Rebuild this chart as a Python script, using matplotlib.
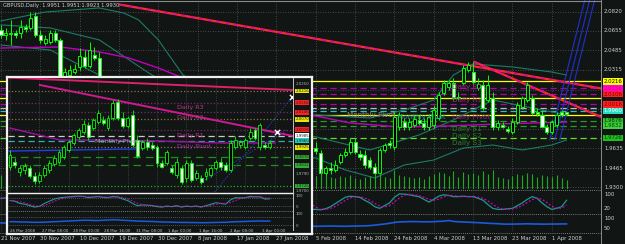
import matplotlib
matplotlib.use("Agg")
import matplotlib.pyplot as plt
import numpy as np
import pandas as pd
from matplotlib.patches import Rectangle

# ---------------- DATA: main GBPUSD daily chart ----------------
open_ = [2.0661,2.0618,2.0627,2.0635,2.0635,2.0687,2.0679,2.0782,2.0618,2.0549,
         2.0557,2.0635,2.0575,2.0254,2.0271,2.0297,2.0341,2.0427,2.0349,2.0445,
         2.0419,2.0142,2.0081,2.0124,1.9986,1.9951,1.9994,1.9908,1.9899,1.9916,
         1.9925,1.9856,1.9882,1.9951,1.9899,1.9942,1.9864,1.9838,1.9778,1.9812,
         1.9856,1.9752,1.9717,1.9795,1.9735,1.9709,1.9743,1.9657,1.9605,1.9570,
         1.9518,1.9579,1.9683,1.9726,1.9795,1.9743,1.9786,1.9812,1.9795,1.9847,
         1.9812,1.9752,1.9812,1.9752,1.9639,1.9596,1.9423,1.9466,1.9449,1.9518,
         1.9579,1.9605,1.9691,1.9587,1.9579,1.9535,1.9475,1.9423,1.9622,1.9683,
         1.9648,1.9821,1.9864,1.9821,1.9838,1.9882,1.9856,1.9821,1.9838,1.9899,
         2.0116,2.0168,2.0202,2.0081,2.0202,2.0315,2.0297,2.0159,2.0185,2.0055,
         2.0072,1.9821,1.9838,1.9804,1.9778,1.9864,1.9994,2.0055,2.0072,1.9951,
         1.9925,1.9821,1.9778,1.9838,1.9951,1.9951]
high_ = [2.0705,2.0679,2.0748,2.0661,2.0748,2.0713,2.0817,2.0817,2.0661,2.0618,
         2.0661,2.0661,2.0592,2.0332,2.0358,2.0367,2.0505,2.0488,2.0557,2.0514,
         2.0471,2.0185,2.0159,2.0142,2.0055,2.0012,2.0020,1.9951,1.9934,1.9951,
         1.9968,1.9899,1.9968,1.9986,1.9968,1.9986,1.9916,1.9882,1.9838,1.9882,
         1.9899,1.9795,1.9812,1.9830,1.9778,1.9761,1.9778,1.9709,1.9665,1.9622,
         1.9605,1.9709,1.9752,1.9812,1.9838,1.9812,1.9830,1.9864,1.9882,1.9899,
         1.9864,1.9838,1.9838,1.9795,1.9691,1.9622,1.9483,1.9518,1.9535,1.9596,
         1.9639,1.9726,1.9726,1.9622,1.9622,1.9561,1.9509,1.9639,1.9683,1.9709,
         1.9951,1.9951,1.9899,1.9899,1.9925,1.9925,1.9899,1.9934,2.0012,2.0124,
         2.0228,2.0228,2.0246,2.0124,2.0358,2.0384,2.0384,2.0246,2.0228,2.0271,
         2.0124,1.9882,1.9864,1.9830,1.9899,2.0038,2.0090,2.0211,2.0098,1.9986,
         1.9968,1.9847,1.9882,1.9951,1.9968,1.9951]
low_ = [2.0592,2.0575,2.0531,2.0592,2.0592,2.0644,2.0661,2.0601,2.0549,2.0531,
        2.0540,2.0557,2.0202,2.0228,2.0246,2.0280,2.0315,2.0332,2.0332,2.0401,
        2.0098,2.0055,2.0038,1.9968,1.9925,1.9899,1.9882,1.9864,1.9847,1.9882,
        1.9838,1.9812,1.9864,1.9882,1.9864,1.9838,1.9812,1.9752,1.9743,1.9761,
        1.9726,1.9691,1.9700,1.9709,1.9691,1.9657,1.9639,1.9579,1.9535,1.9483,
        1.9492,1.9553,1.9639,1.9691,1.9709,1.9726,1.9735,1.9761,1.9769,1.9778,
        1.9726,1.9726,1.9709,1.9622,1.9587,1.9397,1.9397,1.9414,1.9431,1.9501,
        1.9561,1.9587,1.9587,1.9535,1.9466,1.9457,1.9405,1.9397,1.9605,1.9639,
        1.9622,1.9795,1.9795,1.9795,1.9821,1.9838,1.9795,1.9795,1.9812,1.9882,
        2.0098,2.0142,2.0055,2.0055,2.0185,2.0297,2.0185,2.0142,1.9968,2.0038,
        1.9795,1.9795,1.9812,1.9769,1.9761,1.9847,1.9977,2.0038,1.9925,1.9916,
        1.9812,1.9761,1.9761,1.9821,1.9908,1.9923]
close_ = [2.0618,2.0635,2.0635,2.0618,2.0687,2.0670,2.0765,2.0618,2.0575,2.0583,
          2.0635,2.0575,2.0228,2.0297,2.0315,2.0323,2.0436,2.0349,2.0488,2.0419,
          2.0142,2.0081,2.0124,1.9986,1.9951,1.9994,1.9908,1.9899,1.9916,1.9925,
          1.9856,1.9882,1.9951,1.9899,1.9942,1.9864,1.9838,1.9778,1.9812,1.9856,
          1.9752,1.9717,1.9795,1.9735,1.9709,1.9743,1.9657,1.9605,1.9570,1.9518,
          1.9579,1.9683,1.9726,1.9795,1.9743,1.9786,1.9812,1.9795,1.9847,1.9812,
          1.9752,1.9812,1.9752,1.9648,1.9613,1.9423,1.9466,1.9449,1.9492,1.9579,
          1.9605,1.9691,1.9605,1.9561,1.9492,1.9475,1.9423,1.9622,1.9665,1.9665,
          1.9908,1.9925,1.9821,1.9864,1.9890,1.9856,1.9821,1.9908,1.9968,2.0098,
          2.0202,2.0202,2.0072,2.0072,2.0332,2.0358,2.0211,2.0194,1.9986,2.0185,
          1.9821,1.9856,1.9821,1.9786,1.9864,2.0012,2.0072,2.0185,1.9942,1.9934,
          1.9821,1.9778,1.9864,1.9925,1.9925,1.9930]
volume = [14,12,15,11,13,10,16,15,12,11,12,10,22,14,12,10,15,13,14,11,
          21,16,14,18,15,13,12,11,9,8,12,10,11,9,12,13,11,14,12,13,
          15,13,12,14,11,12,14,15,13,16,15,14,13,12,15,11,12,13,12,14,
          13,12,14,15,13,20,14,12,11,13,12,14,11,10,12,13,15,16,12,11,
          19,14,13,12,11,12,10,13,15,17,16,13,18,12,17,15,16,14,18,15,
          19,12,11,10,13,15,14,16,15,12,14,13,12,14,11,9]
stoch_k = [70,72,75,68,72,70,80,65,55,48,55,45,20,15,18,22,40,35,50,45,
           20,12,15,8,10,18,15,20,25,28,20,25,40,35,42,35,30,22,30,40,
           28,20,35,30,25,32,20,12,10,8,20,45,60,75,65,72,80,70,78,70,
           55,65,50,17,17,15,20,30,45,60,75,80,78,74,60,48,30,22,35,48,
           75,91,90,87,82,78,65,52,65,80,87,84,78,78,80,78,78,70,61,40,
           22,17,17,20,22,35,48,65,78,70,48,30,17,22,30,61]
lower_ind = [55,55,52,50,52,55,58,55,50,45,45,42,40,38,36,35,35,36,38,40,
             42,45,48,50,52,55,55,54,52,50,48,47,46,45,45,44,44,45,46,48,
             50,52,54,55,55,54,52,50,48,46,44,42,40,38,36,34,32,30,30,28,
             27,26,25,25,24,24,25,26,25,24,24,25,26,27,28,30,35,40,45,52,
             60,65,66,68,68,67,66,66,67,70,72,78,70,66,64,62,60,58,55,52,
             50,48,45,44,44,45,46,47,46,45,44,44,45,45,46,46]

# moving-average / band lines (bar index, price)
ma_idx = [0, 12, 20, 26, 32, 37, 50, 63, 71, 81, 91, 101, 115]
ma_val = [2.0505, 2.0514, 2.0471, 2.0419, 2.0332, 2.0246, 2.0098, 1.9925, 1.9856, 1.9821, 1.9830, 1.9847, 1.9864]
bbu_idx = [0, 9, 20, 25, 28, 32, 37, 50, 60, 64, 75, 82, 88, 92, 96, 104, 112, 115]
bbu_val = [2.0740, 2.0817, 2.0852, 2.0808, 2.0748, 2.0575, 2.0271, 1.9968, 1.9899, 1.9925, 1.9899, 1.9968, 2.0055, 2.0271, 2.0367, 2.0341, 2.0297, 2.0271]
bbm_idx = [0, 10, 20, 30, 45, 64, 75, 85, 92, 100, 108, 115]
bbm_val = [2.0705, 2.0679, 2.0575, 2.0290, 1.9900, 1.9735, 1.9622, 1.9752, 1.9882, 2.0055, 1.9986, 1.9925]
bbl_idx = [0, 10, 20, 30, 45, 64, 70, 76, 82, 88, 94, 100, 106, 112, 115]
bbl_val = [2.0531, 2.0488, 2.0271, 1.9850, 1.9600, 1.9553, 1.9449, 1.9380, 1.9492, 1.9535, 1.9639, 1.9665, 1.9622, 1.9665, 1.9709]

# trend lines (bar index, price)
trend_a = ([24.2, 122.0], [2.0881, 2.0155])
trend_b = ([96.3, 122.0], [2.0384, 1.9908])
channel_lines = [([111.6, 118.7], [1.9709, 2.0921]),
                 ([112.6, 119.7], [1.9709, 2.0921]),
                 ([113.6, 120.7], [1.9709, 2.0921])]

# pivot levels
levels = [2.0216, 2.0156, 2.0106, 2.0070, 2.0016, 1.9985, 1.9960, 1.9925, 1.9876, 1.9832, 1.9726]
level_colors = ["#ffff00", "#b000b0", "#b000b0", "#ffff00", "#b000b0", "#b8b8b8", "#30c0c0",
                "#ffff00", "#2a9a2a", "#2a9a2a", "#66dd22"]
level_styles = ["-", (0, (5, 3)), (0, (5, 3)), "-", (0, (5, 3)), (0, (5, 3)), (0, (5, 3)),
                "-", (0, (5, 3)), (0, (5, 3)), (0, (5, 3))]
tag_prices = [2.0216, 2.0156, 2.0106, 2.0016, 1.9960, 1.9876, 1.9832, 1.9726]
tag_bg = ["#ffff00", "#ff00ff", "#ff2020", "#ff2020", "#20e0c0", "#30c030", "#40d040", "#20c020"]
tag_fg = ["#000000", "#ff0000", "#800000", "#800000", "#ffffff", "#004000", "#004000", "#004000"]
price_ticks = [2.0820, 2.0655, 2.0485, 2.0315, 2.0145, 1.9975, 1.9805, 1.9635, 1.9465, 1.9300]
price_tick_labels = ["2.0820", "2.0655", "2.0485", "2.0315", "", "", "", "1.9635", "1.9465", "1.9300"]

# ---------------- DATA: inset (H4) ----------------
in_open = [1.9824,1.9850,1.9798,1.9808,1.9819,1.9777,1.9752,1.9782,1.9808,1.9839,
           1.9850,1.9875,1.9911,1.9948,1.9979,2.0004,2.0040,2.0025,2.0056,2.0066,
           2.0025,2.0077,2.0159,2.0077,2.0035,2.0092,1.9963,1.9922,1.9953,1.9937,
           1.9927,1.9844,1.9844,1.9819,1.9782,1.9819,1.9767,1.9844,1.9767,1.9767,
           1.9777,1.9782,1.9819,1.9850,1.9834,1.9808,1.9927,1.9937,1.9927,1.9973,
           2.0015,1.9927,1.9937,1.9927]
in_high = [1.9911,1.9870,1.9834,1.9844,1.9834,1.9798,1.9798,1.9834,1.9860,1.9886,
           1.9911,1.9937,1.9963,1.9999,2.0025,2.0066,2.0056,2.0077,2.0118,2.0087,
           2.0092,2.0169,2.0175,2.0108,2.0087,2.0118,1.9989,1.9963,1.9973,1.9953,
           1.9937,1.9860,1.9911,1.9834,1.9870,1.9834,1.9860,1.9860,1.9808,1.9782,
           1.9819,1.9829,1.9860,1.9870,1.9850,1.9963,1.9984,1.9963,1.9973,2.0025,
           2.0025,2.0051,1.9953,1.9963]
in_low = [1.9808,1.9819,1.9777,1.9788,1.9767,1.9736,1.9741,1.9772,1.9793,1.9829,
          1.9839,1.9865,1.9901,1.9937,1.9968,1.9994,1.9963,2.0015,2.0046,2.0040,
          2.0015,2.0066,2.0066,2.0025,2.0025,1.9927,1.9870,1.9911,1.9911,1.9911,
          1.9824,1.9819,1.9834,1.9788,1.9767,1.9736,1.9746,1.9746,1.9757,1.9736,
          1.9757,1.9772,1.9808,1.9808,1.9798,1.9798,1.9917,1.9922,1.9917,1.9963,
          1.9963,1.9911,1.9917,1.9917]
in_close = [1.9886,1.9834,1.9819,1.9829,1.9777,1.9752,1.9782,1.9819,1.9844,1.9870,
            1.9901,1.9927,1.9953,1.9989,2.0015,2.0046,1.9979,2.0066,2.0102,2.0051,
            2.0077,2.0154,2.0077,2.0035,2.0077,1.9937,1.9881,1.9953,1.9927,1.9922,
            1.9844,1.9824,1.9901,1.9798,1.9850,1.9746,1.9844,1.9757,1.9793,1.9746,
            1.9798,1.9819,1.9850,1.9824,1.9808,1.9948,1.9963,1.9953,1.9963,2.0004,
            1.9973,2.0040,1.9927,1.9948]
in_osc = [60,55,40,35,25,15,20,40,55,70,78,82,85,88,90,88,80,84,88,82,
          80,88,85,70,60,40,25,30,28,25,18,15,22,18,25,15,22,18,22,15,
          25,35,45,40,35,65,80,78,80,88,85,86,70,72]
in_lower = [40,40,38,38,36,35,35,36,38,40,42,44,46,48,50,52,52,50,50,52,
            54,56,55,52,50,48,45,44,43,42,40,38,37,36,35,34,34,33,33,32,
            32,33,34,35,35,38,40,41,42,44,45,46,45,45]
in_levels = [2.0216, 2.0070, 1.9925, 1.9985, 1.9960, 1.9876, 1.9832, 1.9726, 2.0156, 2.0106, 2.0016]
in_level_colors = ["#8c7350", "#8c7350", "#8c7350", "#c8c8c8", "#2fb0b0", "#1f8f1f", "#1f8f1f",
                   "#2faa2f", "#7a2a6a", "#7a2a6a", "#7a2a6a"]
in_level_styles = [":", ":", ":", (0, (5, 3)), (0, (5, 3)), (0, (6, 4)), (0, (6, 4)), ":", ":", ":", ":"]
in_tag_prices = [2.0216, 2.0156, 2.0106, 2.0070, 2.0016, 1.9985, 1.9960, 1.9925, 1.9876, 1.9832, 1.9726]
in_tag_bg = ["#e8e800", "#ff2020", "#ff2020", "#e8e800", "#ff2020", "#ffffff", "#20d0c0", "#e8e800",
             "#30b030", "#30b030", "#30b030"]
in_ticks = [2.0250, 1.9790, 1.9700]
in_trend_a = ([-0.4, 57.75], [2.0285, 2.0221])
in_trend_b = ([6.1, 57.75], [2.0247, 1.9984])
in_ma_idx = [0, 10.2, 20.4, 30.6, 42.9, 54.1]
in_ma_val = [2.0025, 1.9963, 1.9963, 1.9958, 1.9948, 1.9948]
in_blue = ([-0.4, 25.5], [1.9906, 1.9917])
in_dot_lines = [([41.8, 57.6], [1.9695, 2.0185]), ([38.8, 56.5], [1.9741, 2.0015])]
in_marks = ([57.55, 54.5], [2.0185, 2.0004])
in_dates = ["26 Mar 2008", "27 Mar 08:00", "28 Mar 00:00", "28 Mar 16:00", "31 Mar 08:00",
            "1 Apr 00:00", "1 Apr 16:00", "2 Apr 08:00", "3 Apr 00:00"]

# ---------------- styling ----------------
BG = "#111614"
LIME = "#00ff00"
GRID = "#5c5c5c"
TXT = "#d0d0d0"
W, H = 625, 244
FS = 3.9

fig = plt.figure(figsize=(W / 100, H / 100), dpi=100)
fig.patch.set_facecolor(BG)


def ax_px(x0, y0, x1, y1, z=1):
    a = fig.add_axes([x0 / W, 1 - y1 / H, (x1 - x0) / W, (y1 - y0) / H], zorder=z)
    a.set_facecolor("none")
    for s in a.spines.values():
        s.set_visible(False)
    a.set_xticks([]); a.set_yticks([])
    return a


def ftext(x, y, s, **kw):
    fig.text(x / W, 1 - y / H, s, **kw)


def candles(a, o, h, l, c, width=0.62, lw=0.7):
    n = len(o)
    idx = np.arange(n)
    a.vlines(idx, l, h, color=LIME, lw=lw, zorder=4)
    for i in range(n):
        lo, hi = min(o[i], c[i]), max(o[i], c[i])
        fc = "#ffffff" if c[i] < o[i] else "#000000"
        if hi - lo < 1e-5:
            a.hlines(lo, i - width / 2, i + width / 2, color=LIME, lw=lw, zorder=5)
        else:
            a.add_patch(Rectangle((i - width / 2, lo), width, hi - lo, facecolor=fc,
                                  edgecolor=LIME, lw=lw, zorder=5))


# dates (Sun-Fri trading bars)
dates = pd.bdate_range("2007-11-21", periods=len(close_), freq="C",
                       weekmask="Sun Mon Tue Wed Thu Fri", holidays=["2007-12-25"])
XL = (-0.2, 122.0)

# ---------------- main price panel ----------------
ax = ax_px(0, 0, 601, 189, z=1)
ax.set_xlim(*XL)
ax.set_ylim(1.9284, 2.0921)
for i in range(0, len(dates), 8):
    ax.axvline(i, color=GRID, lw=0.6, ls=(0, (1, 2)), zorder=1)
for p in price_ticks:
    ax.axhline(p, color=GRID, lw=0.6, ls=(0, (1, 2)), zorder=1)

# volumes
axv = ax_px(0, 0, 601, 189, z=1)
axv.set_xlim(*XL)
axv.set_ylim(0, 189)
axv.vlines(np.arange(len(volume)), 0, volume, color="#1faa1f", lw=0.8)

for p, c, s in zip(levels, level_colors, level_styles):
    ax.axhline(p, color=c, lw=0.9, ls=s, zorder=2)

ax.plot(bbu_idx, bbu_val, color="#1d7a66", lw=0.8, zorder=2)
ax.plot(bbm_idx, bbm_val, color="#1d7a66", lw=0.8, zorder=2)
ax.plot(bbl_idx, bbl_val, color="#1d7a66", lw=0.8, zorder=2)
ax.plot(ma_idx, ma_val, color="#c000c0", lw=1.0, zorder=2)
ax.plot(*trend_a, color="#ff2a2a", lw=1.6, zorder=3)
ax.plot(*trend_a, color="#d000d0", lw=0.8, ls=(0, (4, 4)), zorder=3)
ax.plot(*trend_b, color="#ff2a2a", lw=1.6, zorder=3)
ax.plot(*trend_b, color="#d000d0", lw=0.8, ls=(0, (4, 4)), zorder=3)
for xs, ys in channel_lines:
    ax.plot(xs, ys, color="#2030d0", lw=0.8, zorder=3)

candles(ax, open_, high_, low_, close_)

ax.text(70.3, 1.9925, "Monthly Pivot", color="#8a8a8a", fontsize=5.2, va="center", zorder=6)
ax.text(80.5, 1.9908, "Monthly Pivot", color="#2a8f8f", fontsize=5.2, va="center", zorder=6)
for t, p, c in [("Daily R2", 2.0168, "#a0208a"), ("Daily R1", 2.0055, "#a0208a"),
                ("Daily Pivot", 1.9908, "#8a208a"), ("Daily S1", 1.9804, "#2e7a2e"),
                ("Daily S2", 1.9743, "#2e7a2e"), ("Daily S3", 1.9683, "#2e7a2e")]:
    ax.text(91.7, p, t, color=c, fontsize=5.2, va="center", zorder=6)

# right axis
ytr = ax.get_yaxis_transform()
for p, lab in zip(price_ticks, price_tick_labels):
    if lab:
        ax.text(1.005, p, lab, transform=ytr, fontsize=FS, color=TXT, va="center",
                ha="left", clip_on=False, zorder=6)
for p, bgc, fg in zip(tag_prices, tag_bg, tag_fg):
    ax.text(1.004, p, f"{p:.4f}", transform=ytr, fontsize=FS, color=fg, va="center",
            ha="left", clip_on=False, zorder=7,
            bbox=dict(boxstyle="square,pad=0.12", fc=bgc, ec="none"))

ftext(3, 6, "GBPUSD,Daily  1.9951 1.9951 1.9923 1.9930", fontsize=3.7, color=TXT, va="center")

# ---------------- oscillator panels ----------------
axo = ax_px(0, 191, 601, 214)
axo.set_xlim(*XL)
axo.set_ylim(-5, 105)
k = pd.Series(stoch_k, dtype=float)
axo.plot(np.arange(len(k)), k, color="#1d9a86", lw=0.9)
axo.plot(np.arange(len(k)), k.rolling(3, min_periods=1).mean(), color="#d000d0", lw=0.9,
         ls=(0, (1.5, 1.5)))
for i in range(0, len(dates), 8):
    axo.axvline(i, color=GRID, lw=0.5, ls=(0, (1, 2)))

axr = ax_px(0, 215, 601, 232)
axr.set_xlim(*XL)
axr.set_ylim(-30, 130)
axr.plot(np.arange(len(lower_ind)), lower_ind, color="#1a5ae0", lw=1.2)
for i in range(0, len(dates), 8):
    axr.axvline(i, color=GRID, lw=0.5, ls=(0, (1, 2)))

for y in (190, 214, 232.5):
    fig.add_artist(plt.Line2D([0, 601 / W], [1 - y / H] * 2, color="#9a9a9a", lw=0.6,
                              ls=(0, (1, 1.5))))
fig.add_artist(plt.Line2D([601 / W] * 2, [0, 1], color="#8a8a8a", lw=0.7))
fig.add_artist(plt.Line2D([0, 601 / W], [1 - 0.5 / H] * 2, color="#8a8a8a", lw=0.8))

ftext(604, 195, "100", fontsize=FS, color=TXT, va="center")
ftext(604, 208, "20", fontsize=FS, color=TXT, va="center")
ftext(604, 219, "100", fontsize=FS, color=TXT, va="center")
ftext(604, 228, "50", fontsize=FS, color=TXT, va="center")

# date labels
for i in range(0, len(dates), 8):
    d = dates[i]
    x = (i - XL[0]) / (XL[1] - XL[0]) * 601
    ftext(x, 238.5, f"{d.day} {d.strftime('%b %Y')}", fontsize=FS, color=TXT,
          va="center", ha="left")

# ---------------- inset chart ----------------
axb = ax_px(7, 77, 312, 234, z=5)
axb.set_facecolor(BG)
for s in axb.spines.values():
    s.set_visible(True); s.set_color("#f0f0f0"); s.set_linewidth(1.6)

IXL = (-0.41, 57.75)
a2 = ax_px(8, 78, 293, 192, z=6)
a2.set_xlim(*IXL)
a2.set_ylim(1.9695, 2.0283)
for j in range(0, 58, 6):
    a2.axvline(j, color=GRID, lw=0.5, ls=(0, (1, 2)), zorder=1)
for p, c, s in zip(in_levels, in_level_colors, in_level_styles):
    a2.axhline(p, color=c, lw=0.9, ls=s, zorder=2)
a2.plot(*in_trend_a, color="#e0206a", lw=1.4, zorder=3)
a2.plot(*in_trend_b, color="#d01890", lw=1.4, zorder=3)
a2.plot(in_ma_idx, in_ma_val, color="#a010a0", lw=1.0, zorder=3)
a2.plot(*in_blue, color="#2040e0", lw=1.0, zorder=3)
for xs, ys in in_dot_lines:
    a2.plot(xs, ys, color="#2a40c0", lw=0.8, ls=(0, (1, 1.5)), zorder=3)
candles(a2, in_open, in_high, in_low, in_close, width=0.6, lw=0.6)
a2.scatter(*in_marks, marker="x", s=14, color="white", lw=1.0, zorder=7)
a2.text(17.3, 1.9953, "Monthly Pivot", color="#9a9a9a", fontsize=4.6, va="center", zorder=6)
for t, p, c in [("Daily R3", 2.0133, "#c0308f"), ("Daily R2", 2.0077, "#a04070"),
                ("Daily R1", 1.9989, "#c0308f"), ("Daily Pivot", 1.9932, "#a030a0")]:
    a2.text(34.1, p, t, color=c, fontsize=4.6, va="center", zorder=6)

IFS = 2.9
ytr2 = a2.get_yaxis_transform()
for p in in_ticks:
    a2.text(1.01, p, f"{p:.4f}", transform=ytr2, fontsize=IFS, color="#b0b0b0", va="center",
            ha="left", clip_on=False, zorder=7)
for p, bgc in zip(in_tag_prices, in_tag_bg):
    a2.text(1.008, p, f"{p:.4f}", transform=ytr2, fontsize=IFS, color="#202020", va="center",
            ha="left", clip_on=False, zorder=8,
            bbox=dict(boxstyle="square,pad=0.1", fc=bgc, ec="none"))

a3 = ax_px(8, 194, 293, 210, z=6)
a3.set_xlim(*IXL)
a3.set_ylim(-5, 105)
s_in = pd.Series(in_osc, dtype=float)
a3.plot(np.arange(len(s_in)), s_in, color="#1d9a86", lw=0.8)
a3.plot(np.arange(len(s_in)), s_in.rolling(3, min_periods=1).mean(), color="#d000d0", lw=0.8,
        ls=(0, (1.5, 1.5)))
for lv in (20, 80):
    a3.axhline(lv, color="#8a8a8a", lw=0.5, ls=(0, (1, 2)))

a4 = ax_px(8, 212, 293, 229, z=6)
a4.set_xlim(*IXL)
a4.set_ylim(-20, 120)
a4.plot(np.arange(len(in_lower)), in_lower, color="#1a5ae0", lw=1.1)
for lv in (15, 75):
    a4.axhline(lv, color="#8a8a8a", lw=0.5, ls=(0, (1, 2)))

fig.add_artist(plt.Line2D([8 / W, 293 / W], [1 - 192.5 / H] * 2, color="#f0f0f0", lw=1.0, zorder=7))
fig.add_artist(plt.Line2D([293 / W] * 2, [1 - 78 / H, 1 - 230 / H], color="#c0c0c0", lw=0.7, zorder=7))
fig.add_artist(plt.Line2D([8 / W, 293 / W], [1 - 210.5 / H] * 2, color="#9a9a9a", lw=0.6,
                          ls=(0, (1, 1.5)), zorder=7))
for t, yy in [("100", 196), ("0", 207), ("100", 214), ("0", 226)]:
    ftext(296, yy, t, fontsize=IFS, color="#b0b0b0", va="center", zorder=8)
for n, t in enumerate(in_dates):
    ftext(10 + n * 31.5, 231, t, fontsize=IFS, color="#c0c0c0", va="center", zorder=8)

fig.savefig("out.png", dpi=100, facecolor=BG)
